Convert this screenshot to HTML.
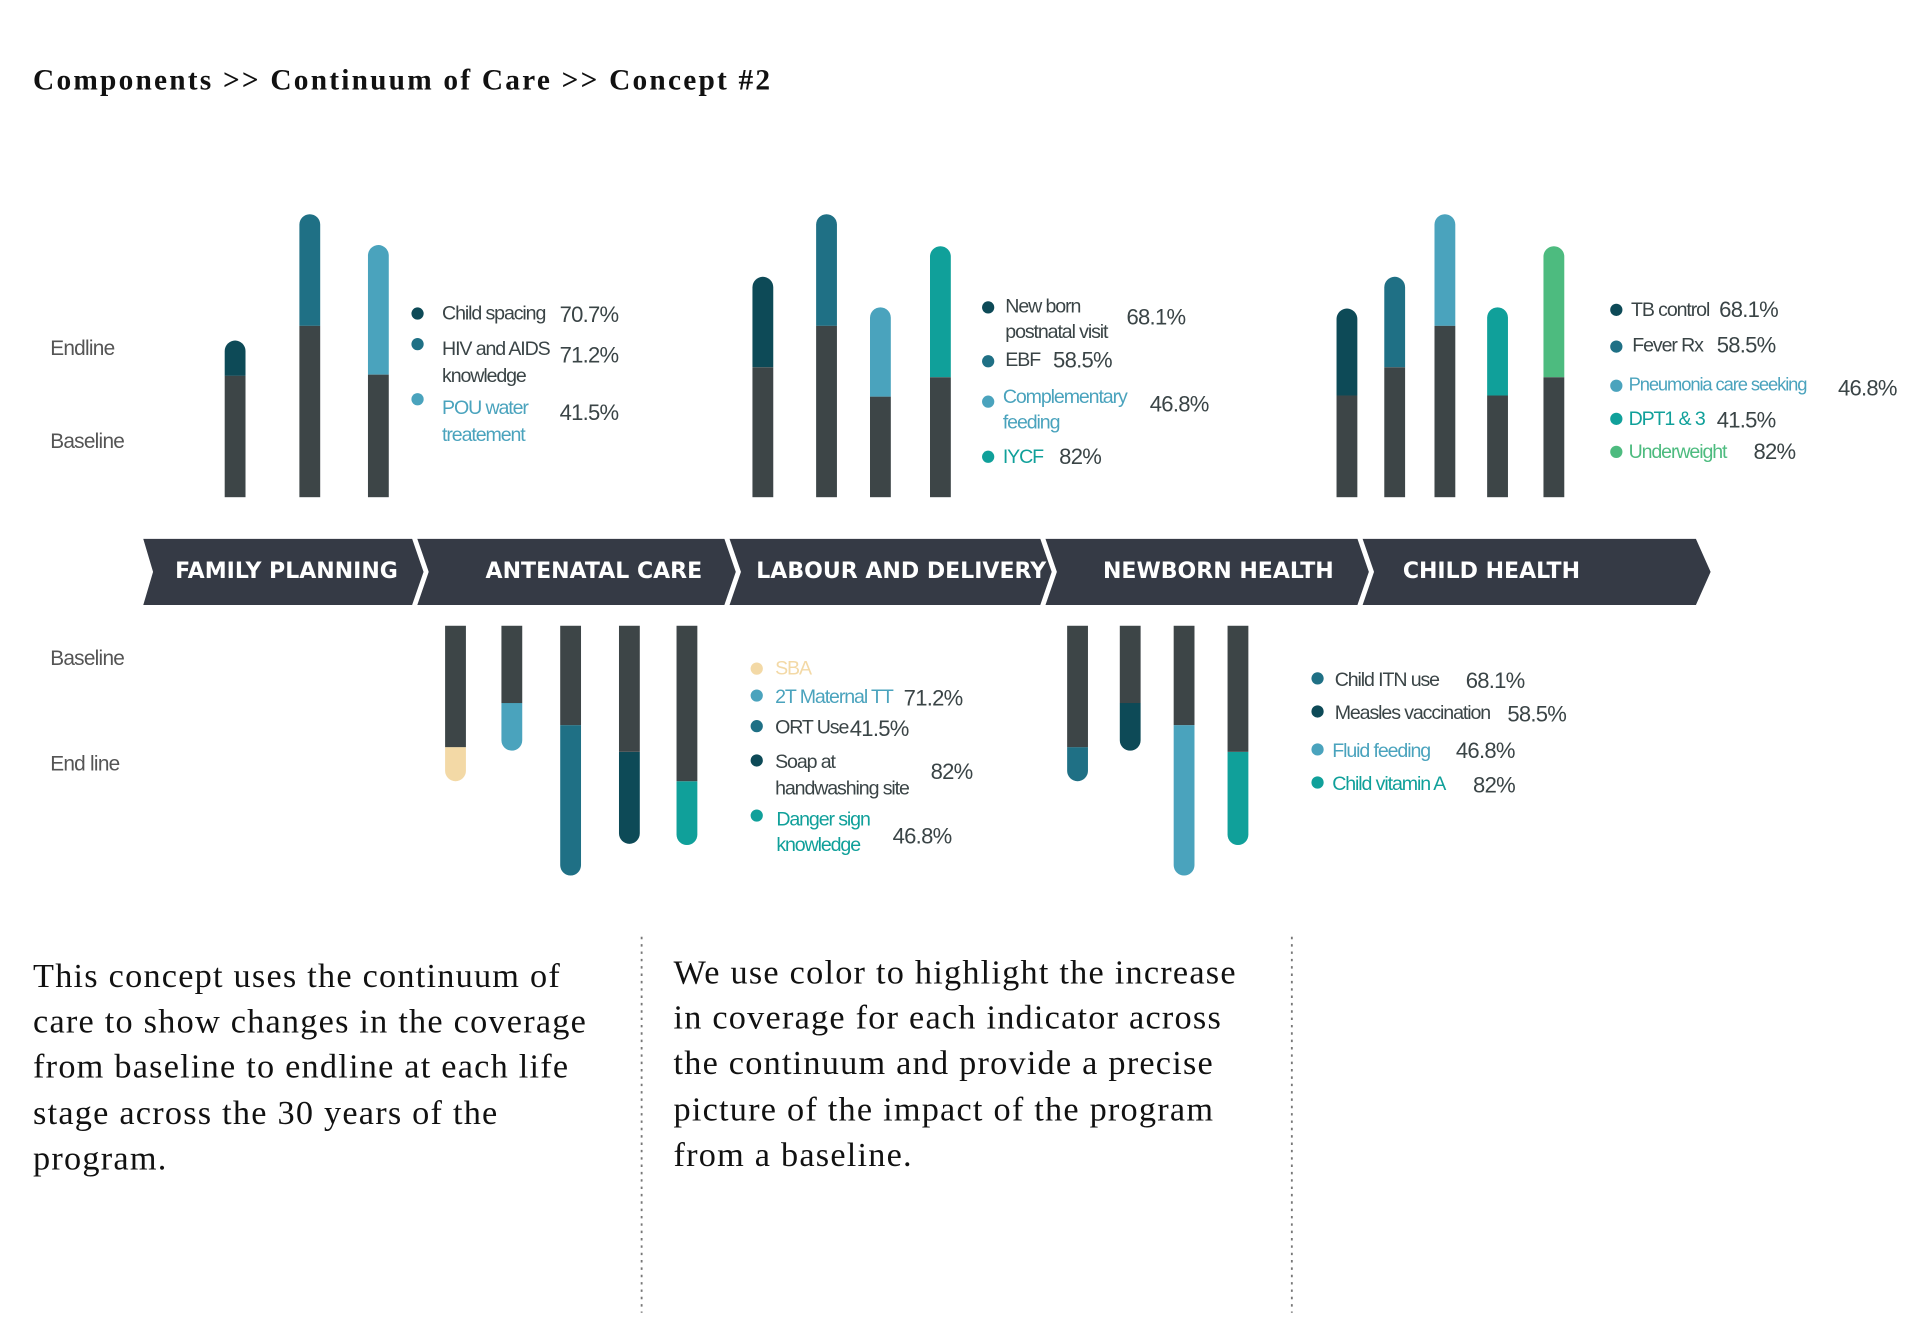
<!DOCTYPE html>
<html><head><meta charset="utf-8"><style>
html,body{margin:0;padding:0;background:#fff;width:1920px;height:1325px;overflow:hidden}
svg{display:block}
.lg{font-family:"Liberation Sans",sans-serif;font-size:16px;letter-spacing:-0.9px}
.pc{font-family:"Liberation Sans",sans-serif;font-size:18px;letter-spacing:-0.6px;fill:#3a4446}
.ax{font-family:"Liberation Sans",sans-serif;font-size:17px;fill:#555;letter-spacing:-0.6px}
.stage{font-family:"DejaVu Sans",sans-serif;font-weight:bold;font-size:18px;fill:#fff}
.para{font-family:"Liberation Serif",serif;font-size:28px;fill:#111;letter-spacing:1px}
</style></head><body>
<svg id="chart" width="1920" height="1325" viewBox="0 0 1568 1082" xmlns="http://www.w3.org/2000/svg">
<text x="27" y="73" font-family="Liberation Serif,serif" font-weight="bold" font-size="24" letter-spacing="1.8" fill="#111">Components &gt;&gt; Continuum of Care &gt;&gt; Concept #2</text>

<text class="ax" x="41" y="290">Endline</text>
<text class="ax" x="41" y="366">Baseline</text>
<text class="ax" x="41" y="543">Baseline</text>
<text class="ax" x="41" y="629">End line</text>

<g>
<polygon points="117,440 1385,440 1397,467 1385,494 117,494 125,467" fill="#353a45"/>
<polyline points="338,438 348,467 338,496" fill="none" stroke="#fff" stroke-width="4"/>
<polyline points="593,438 603,467 593,496" fill="none" stroke="#fff" stroke-width="4"/>
<polyline points="851,438 861,467 851,496" fill="none" stroke="#fff" stroke-width="4"/>
<polyline points="1110,438 1120,467 1110,496" fill="none" stroke="#fff" stroke-width="4"/>
<text class="stage" x="234" y="472" text-anchor="middle">FAMILY  PLANNING</text>
<text class="stage" x="485" y="472" text-anchor="middle">ANTENATAL CARE</text>
<text class="stage" x="736" y="472" text-anchor="middle">LABOUR AND DELIVERY</text>
<text class="stage" x="995" y="472" text-anchor="middle">NEWBORN HEALTH</text>
<text class="stage" x="1218" y="472" text-anchor="middle">CHILD HEALTH</text>
</g>

<g id="bars"></g>

<g>
<circle cx="341" cy="256" r="5" fill="#0d4a57"/><text class="lg" x="361" y="261" fill="#3a4446">Child spacing</text><text class="pc" x="457" y="263">70.7%</text>
<circle cx="341" cy="281" r="5" fill="#1f7085"/><text class="lg" x="361" y="290" fill="#3a4446">HIV and AIDS</text><text class="lg" x="361" y="312" fill="#3a4446">knowledge</text><text class="pc" x="457" y="296">71.2%</text>
<circle cx="341" cy="326" r="5" fill="#4aa3bd"/><text class="lg" x="361" y="338" fill="#4aa3bd">POU water</text><text class="lg" x="361" y="360" fill="#4aa3bd">treatement</text><text class="pc" x="457" y="343">41.5%</text>
</g>
<g>
<circle cx="807" cy="251" r="5" fill="#0d4a57"/><text class="lg" x="821" y="255" fill="#3a4446">New born</text><text class="lg" x="821" y="276" fill="#3a4446">postnatal visit</text><text class="pc" x="920" y="265">68.1%</text>
<circle cx="807" cy="295" r="5" fill="#1f7085"/><text class="lg" x="821" y="299" fill="#3a4446">EBF</text><text class="pc" x="860" y="300">58.5%</text>
<circle cx="807" cy="328" r="5" fill="#4aa3bd"/><text class="lg" x="819" y="329" fill="#4aa3bd">Complementary</text><text class="lg" x="819" y="350" fill="#4aa3bd">feeding</text><text class="pc" x="939" y="336">46.8%</text>
<circle cx="807" cy="373" r="5" fill="#10a09a"/><text class="lg" x="819" y="378" fill="#10a09a">IYCF</text><text class="pc" x="865" y="379">82%</text>
</g>
<g>
<circle cx="1320" cy="253" r="5" fill="#0d4a57"/><text class="lg" x="1332" y="258" fill="#3a4446">TB control</text><text class="pc" x="1404" y="259">68.1%</text>
<circle cx="1320" cy="283" r="5" fill="#1f7085"/><text class="lg" x="1333" y="287" fill="#3a4446">Fever  Rx</text><text class="pc" x="1402" y="288">58.5%</text>
<circle cx="1320" cy="315" r="5" fill="#4aa3bd"/><text class="lg" x="1330" y="319" fill="#4aa3bd" style="font-size:15px">Pneumonia care seeking</text><text class="pc" x="1501" y="323">46.8%</text>
<circle cx="1320" cy="342" r="5" fill="#10a09a"/><text class="lg" x="1330" y="347" fill="#10a09a">DPT1 &amp; 3</text><text class="pc" x="1402" y="349">41.5%</text>
<circle cx="1320" cy="369" r="5" fill="#4dbb7f"/><text class="lg" x="1330" y="374" fill="#4dbb7f">Underweight</text><text class="pc" x="1432" y="375">82%</text>
</g>
<g>
<circle cx="618" cy="546" r="5" fill="#f3d9a6"/><text class="lg" x="633" y="551" fill="#f3d9a6">SBA</text>
<circle cx="618" cy="568" r="5" fill="#4aa3bd"/><text class="lg" x="633" y="574" fill="#4aa3bd">2T Maternal TT</text><text class="pc" x="738" y="576">71.2%</text>
<circle cx="618" cy="593" r="5" fill="#1f7085"/><text class="lg" x="633" y="599" fill="#3a4446">ORT Use</text><text class="pc" x="694" y="601">41.5%</text>
<circle cx="618" cy="621" r="5" fill="#0d4a57"/><text class="lg" x="633" y="627" fill="#3a4446">Soap at</text><text class="lg" x="633" y="649" fill="#3a4446">handwashing site</text><text class="pc" x="760" y="636">82%</text>
<circle cx="618" cy="666" r="5" fill="#10a09a"/><text class="lg" x="634" y="674" fill="#10a09a">Danger sign</text><text class="lg" x="634" y="695" fill="#10a09a">knowledge</text><text class="pc" x="729" y="689">46.8%</text>
</g>
<g>
<circle cx="1076" cy="554" r="5" fill="#1f7085"/><text class="lg" x="1090" y="560" fill="#3a4446">Child ITN use</text><text class="pc" x="1197" y="562">68.1%</text>
<circle cx="1076" cy="581" r="5" fill="#0d4a57"/><text class="lg" x="1090" y="587" fill="#3a4446">Measles vaccination</text><text class="pc" x="1231" y="589">58.5%</text>
<circle cx="1076" cy="612" r="5" fill="#4aa3bd"/><text class="lg" x="1088" y="618" fill="#4aa3bd">Fluid feeding</text><text class="pc" x="1189" y="619">46.8%</text>
<circle cx="1076" cy="639" r="5" fill="#10a09a"/><text class="lg" x="1088" y="645" fill="#10a09a">Child vitamin A</text><text class="pc" x="1203" y="647">82%</text>
</g>

<line x1="524" y1="765" x2="524" y2="1072" stroke="#777" stroke-width="1.5" stroke-dasharray="2,4"/>
<line x1="1055" y1="765" x2="1055" y2="1072" stroke="#777" stroke-width="1.5" stroke-dasharray="2,4"/>

<g>
<text class="para" x="27" y="806">This concept uses the continuum of</text>
<text class="para" x="27" y="843">care to show changes in the coverage</text>
<text class="para" x="27" y="880">from baseline to endline at each life</text>
<text class="para" x="27" y="918">stage across the 30 years of  the</text>
<text class="para" x="27" y="955">program.</text>
</g>
<g>
<text class="para" x="550" y="803">We use color to highlight the increase</text>
<text class="para" x="550" y="840">in coverage for each indicator across</text>
<text class="para" x="550" y="877">the continuum and provide a precise</text>
<text class="para" x="550" y="915">picture of  the impact of  the program</text>
<text class="para" x="550" y="952">from a baseline.</text>
</g>
</svg>
<script>
const fpBase = [41.3, 58.3, 41.7];
const fpEnd = [53.3, 96.3, 85.8];
const fpColors = ['#0d4a57', '#1f7085', '#4aa3bd'];
const ldBase = [44.2, 58.3, 34.2, 40.8];
const ldEnd = [75, 96.3, 64.6, 85.4];
const ldColors = ['#0d4a57', '#1f7085', '#4aa3bd', '#10a09a'];
const chBase = [34.6, 44.2, 58.3, 34.6, 40.8];
const chEnd = [64.2, 75, 96.3, 64.6, 85.4];
const chColors = ['#0d4a57', '#1f7085', '#4aa3bd', '#10a09a', '#4dbb7f'];
const anBase = [41.3, 26.3, 33.8, 42.9, 52.9];
const anEnd = [52.9, 42.5, 85, 74.2, 74.6];
const anColors = ['#f3d9a6', '#4aa3bd', '#1f7085', '#0d4a57', '#10a09a'];
const nbBase = [41.3, 26.3, 33.8, 42.9];
const nbEnd = [52.9, 42.5, 85, 74.6];
const nbColors = ['#1f7085', '#0d4a57', '#4aa3bd', '#10a09a'];

const groups = [
  {name:'family-planning', base:fpBase, end:fpEnd, colors:fpColors, x:[192,253,309], dir:-1},
  {name:'labour-delivery', base:ldBase, end:ldEnd, colors:ldColors, x:[623,675,719,768], dir:-1},
  {name:'child-health', base:chBase, end:chEnd, colors:chColors, x:[1100,1139,1180,1223,1269], dir:-1},
  {name:'antenatal-care', base:anBase, end:anEnd, colors:anColors, x:[372,418,466,514,561], dir:1},
  {name:'newborn-health', base:nbBase, end:nbEnd, colors:nbColors, x:[880,923,967,1011], dir:1}
];
const K = 2.4, W = 17;
function yTop(v){ return 406 - v*K; }
function yBot(v){ return 511 + v*K; }
const NS = 'http://www.w3.org/2000/svg';
const g = document.getElementById('bars');
function mk(tag, attrs){ const e=document.createElementNS(NS,tag); for(const k in attrs) e.setAttribute(k,attrs[k]); return e; }
groups.forEach(gr=>{
  gr.base.forEach((b,i)=>{
    const e = gr.end[i], cx = gr.x[i], x = cx - W/2;
    let endEl, baseEl;
    if (gr.dir < 0) {
      const y0 = yTop(e), y1 = yTop(b);
      endEl = mk('path', {d:`M${x},${y1} L${x},${y0+W/2} A${W/2},${W/2} 0 0 1 ${x+W},${y0+W/2} L${x+W},${y1} Z`, fill:gr.colors[i]});
      baseEl = mk('rect', {x:x, y:y1, width:W, height:406-y1, fill:'#3d4547'});
    } else {
      const y0 = yBot(e), y1 = yBot(b);
      endEl = mk('path', {d:`M${x},${y1} L${x},${y0-W/2} A${W/2},${W/2} 0 0 0 ${x+W},${y0-W/2} L${x+W},${y1} Z`, fill:gr.colors[i]});
      baseEl = mk('rect', {x:x, y:511, width:W, height:y1-511, fill:'#3d4547'});
    }
    
    
    
    
    g.appendChild(endEl); g.appendChild(baseEl);
  });
});
</script>
</body></html>
